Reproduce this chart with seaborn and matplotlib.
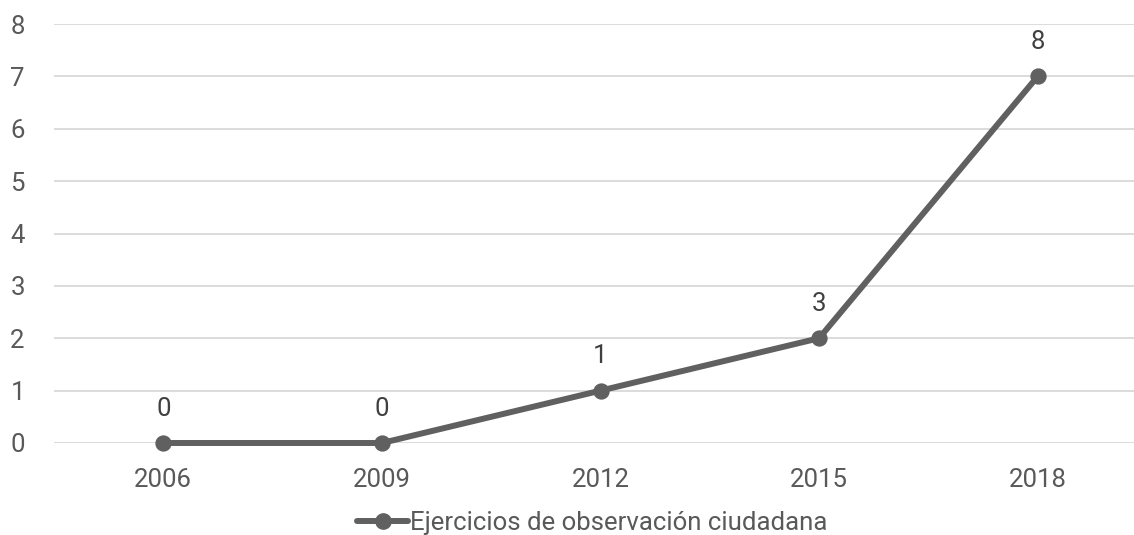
import matplotlib
matplotlib.use("Agg")
import matplotlib.pyplot as plt
from matplotlib.lines import Line2D
import pandas as pd
import seaborn as sns

years = ["2006", "2009", "2012", "2015", "2018"]
values = [0, 0, 1, 2, 7]
value_labels = ["0", "0", "1", "3", "8"]
series_name = "Ejercicios de observación ciudadana"
y_ticks = [0, 1, 2, 3, 4, 5, 6, 7, 8]

sns.set_theme(style="white")
plt.rcParams["font.family"] = ["Roboto", "DejaVu Sans"]

line_color = "#606060"
text_color = "#595959"
grid_color = "#d9d9d9"
fs = 18.5

df = pd.DataFrame({"year": years, "value": values})

fig = plt.figure(figsize=(11.34, 5.35), dpi=100)
ax = fig.add_axes([54 / 1134, 92 / 535, 1093 / 1134, 419 / 535])

sns.pointplot(data=df, x="year", y="value", color=line_color, markers="o",
              linestyles="-", linewidth=4.3, markersize=8.5, ax=ax,
              errorbar=None)
for art in ax.lines + ax.collections:
    art.set_clip_on(False)

ax.set_ylim(0, 8)
ax.set_xlim(-0.5, len(years) - 0.5)
ax.set_yticks(y_ticks)
ax.yaxis.grid(True, color=grid_color, linewidth=1.3)
ax.set_axisbelow(True)
for s in ax.spines.values():
    s.set_visible(False)
ax.set_xlabel("")
ax.set_ylabel("")
ax.tick_params(axis="y", length=0, pad=21, labelsize=fs, labelcolor=text_color)
ax.tick_params(axis="x", length=0, pad=18, labelsize=fs, labelcolor=text_color)
for t in ax.get_yticklabels():
    t.set_horizontalalignment("right")

for i, (v, lab) in enumerate(zip(values, value_labels)):
    ax.annotate(lab, (i, v), xytext=(0, 16), textcoords="offset points",
                ha="center", va="bottom", fontsize=fs, color="#404040")

handle = Line2D([], [], color=line_color, linewidth=4.3, marker="o",
                markersize=11)
leg = fig.legend(handles=[handle], labels=[series_name], loc="center",
                 bbox_to_anchor=(592 / 1134, 1 - 523 / 535), frameon=False,
                 fontsize=fs, handlelength=2.0, handletextpad=0.05,
                 borderpad=0)
for t in leg.get_texts():
    t.set_color(text_color)

fig.savefig("out.png", dpi=100)
